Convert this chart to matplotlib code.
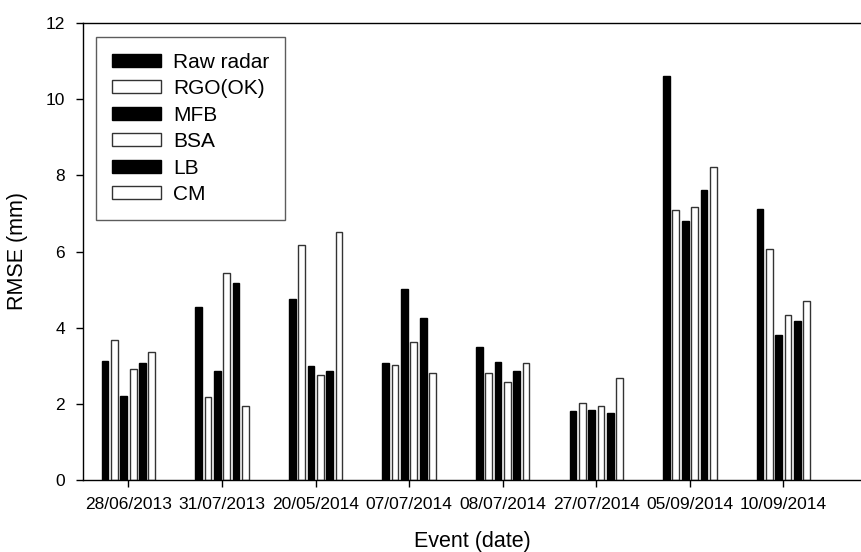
import numpy as np
import matplotlib
matplotlib.use("Agg")
import matplotlib.pyplot as plt

plt.rcParams["font.family"] = ["Liberation Sans", "DejaVu Sans"]

events = ["28/06/2013", "31/07/2013", "20/05/2014", "07/07/2014",
          "08/07/2014", "27/07/2014", "05/09/2014", "10/09/2014"]

raw_radar = [3.13, 4.53, 4.75, 3.08, 3.50, 1.80, 10.61, 7.11]
rgo_ok    = [3.68, 2.19, 6.16, 3.01, 2.82, 2.03, 7.09, 6.07]
mfb       = [2.21, 2.85, 2.99, 5.02, 3.09, 1.85, 6.80, 3.81]
bsa       = [2.91, 5.44, 2.77, 3.62, 2.58, 1.93, 7.18, 4.33]
lb        = [3.08, 5.17, 2.85, 4.26, 2.86, 1.77, 7.62, 4.18]
cm        = [3.37, 1.95, 6.52, 2.81, 3.06, 2.67, 8.21, 4.70]

series = [("Raw radar", raw_radar, "black"),
          ("RGO(OK)", rgo_ok, "white"),
          ("MFB", mfb, "black"),
          ("BSA", bsa, "white"),
          ("LB", lb, "black"),
          ("CM", cm, "white")]

fig = plt.figure(figsize=(8.62, 5.52), dpi=100)
ax = fig.add_axes([83 / 862, 72 / 552, 1 - 83 / 862, 457 / 552])

x = np.arange(len(events))
width = 0.072
step = 0.1

for i, (name, vals, col) in enumerate(series):
    edge = "black" if col == "black" else "#333333"
    ax.bar(x + (i - 2.5) * step, vals, width, color=col, edgecolor=edge,
           linewidth=1.0, label=name)

ax.set_xlim(-0.486, 7.84)
ax.set_ylim(0, 12)
ax.set_yticks(range(0, 13, 2))
ax.set_xticks(x)
ax.set_xticklabels(events)

ax.tick_params(axis="both", direction="out", length=5, width=1, labelsize=12.5)
ax.tick_params(axis="x", pad=7)
ax.tick_params(axis="y", pad=8)

for s in ax.spines.values():
    s.set_linewidth(1.0)

ax.set_xlabel("Event (date)", fontsize=15.5, labelpad=14)
ax.set_ylabel("RMSE (mm)", fontsize=15.5, labelpad=13)

leg = ax.legend(loc="upper left", bbox_to_anchor=(96 / 862, 1 - 37 / 552),
                bbox_transform=fig.transFigure, borderaxespad=0,
                fontsize=15, frameon=True, fancybox=False,
                handlelength=2.35, handleheight=0.6, handletextpad=0.6,
                labelspacing=0.36, borderpad=0.75)
leg.get_frame().set_edgecolor("#333333")
leg.get_frame().set_linewidth(1.0)

fig.savefig("out.png", dpi=100)
